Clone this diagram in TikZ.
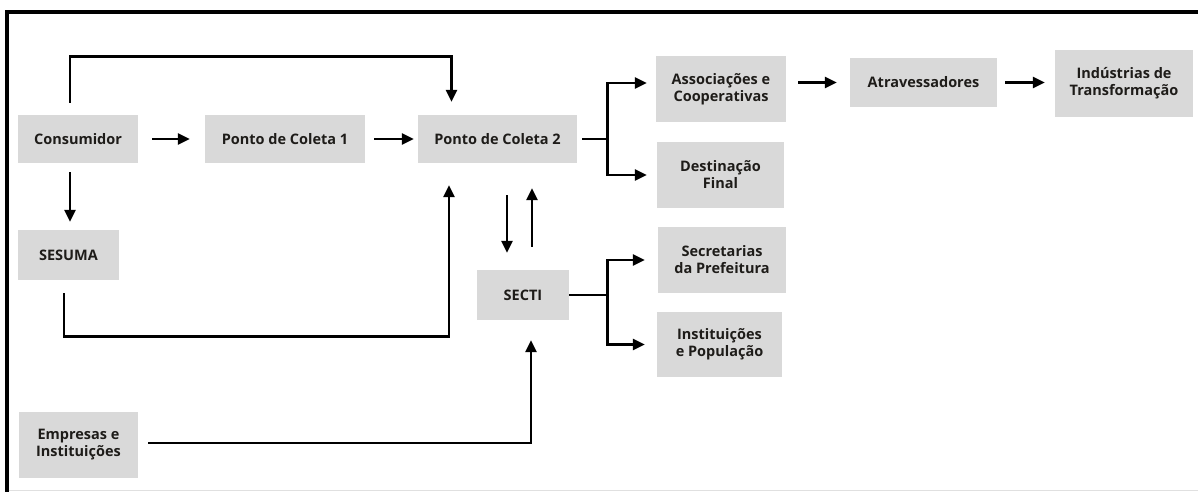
\documentclass[tikz,border=0pt]{standalone}
\usepackage{fontspec}
\setmainfont{Open Sans}
\usetikzlibrary{arrows.meta}
\definecolor{caixacinza}{RGB}{217,217,217}
\definecolor{textoescuro}{RGB}{30,28,25}
\tikzset{
	caixa/.style={fill=caixacinza, inner sep=0pt, align=center, text=textoescuro,
		font=\fontsize{14.5}{17}\selectfont\bfseries},
	seta/.style={line width=2.8pt, -{Triangle[length=12pt,width=11pt]}},
	linha/.style={line width=2.8pt},
}

\begin{document}
\begin{tikzpicture}[x=1pt,y=-1pt]
		\useasboundingbox (0,0) rectangle (1198,492);
		\draw[line width=4pt] (7,492) -- (7,12) -- (1198,12);
		\draw[black!12, line width=1pt] (9,490) -- (1198,490);
		\node[caixa, minimum width=120pt, minimum height=48pt] (cons) at (78,139) {Consumidor};
		\node[caixa, minimum width=160pt, minimum height=48pt] (pc1) at (285,139) {Ponto de Coleta 1};
		\node[caixa, minimum width=159pt, minimum height=48pt] (pc2) at (497.5,139) {Ponto de Coleta 2};
		\node[caixa, minimum width=101pt, minimum height=50pt] (sesuma) at (68.5,255) {SESUMA};
		\node[caixa, minimum width=130pt, minimum height=66pt] (assoc) at (721,89) {Associações e\\Cooperativas};
		\node[caixa, minimum width=127pt, minimum height=66pt] (dest) at (720.5,175) {Destinação\\Final};
		\node[caixa, minimum width=147pt, minimum height=49pt] (atrav) at (923.5,82.5) {Atravessadores};
		\node[caixa, minimum width=138pt, minimum height=67pt] (ind) at (1124,83.5) {Indústrias de\\Transformação};
		\node[caixa, minimum width=92pt, minimum height=50pt] (secti) at (523,295) {SECTI};
		\node[caixa, minimum width=128pt, minimum height=66pt] (secr) at (722,260) {Secretarias\\da Prefeitura};
		\node[caixa, minimum width=125pt, minimum height=65pt] (inst) at (719.5,344.5) {Instituições\\e População};
		\node[caixa, minimum width=119pt, minimum height=66pt] (emp) at (78.5,445) {Empresas e\\Instituições};
		\coordinate (cx) at ([xshift=-8pt]cons.north);
		\coordinate (px) at ([xshift=-46pt]pc2.north);
		\coordinate (cs) at ([xshift=-8pt]cons.south);
		\coordinate (ss) at ([xshift=-4.5pt]sesuma.south);
		\coordinate (ps) at ([xshift=-48.5pt]pc2.south);
		\coordinate (t1) at ([xshift=-16pt]secti.north);
		\coordinate (t2) at ([xshift=9pt]secti.north);
		\coordinate (es) at ([xshift=8pt]secti.south);
		\draw[seta, shorten <=12pt, shorten >=13pt] (cx) -- ++(0,-58) -| (px);
		\draw[seta, shorten <=14pt, shorten >=15pt] (cons.east) -- (pc1.west);
		\draw[seta, shorten <=9pt, shorten >=4pt] (pc1.east) -- (pc2.west);
		\draw[seta, shorten <=9pt, shorten >=8pt] (cs) -- (cs |- sesuma.north);
		\draw[seta, shorten <=13pt, shorten >=22pt] (ss) -- ++(0,56) -| (ps);
		\draw[seta, shorten <=32pt, shorten >=17pt] (t1 |- pc2.south) -- (t1);
		\draw[seta, shorten <=23pt, shorten >=25pt] (t2) -- (t2 |- pc2.south);
		\draw[seta, shorten <=10pt, shorten >=20pt] ([yshift=2pt]emp.east) -| (es);
		\draw[linha] ([xshift=5pt]pc2.east) -- ++(25,0) coordinate (r1);
		\draw[seta, shorten >=9pt] (r1) |- ([yshift=6pt]assoc.west);
		\draw[seta, shorten >=10pt] (r1) |- (dest.west);
		\draw[seta, shorten <=12pt, shorten >=13pt] (assoc.east |- atrav.west) -- (atrav.west);
		\draw[seta, shorten <=8pt, shorten >=10pt] (atrav.east) -- (atrav.east -| ind.west);
		\draw[linha] (secti.east) -- ++(38,0) coordinate (r2);
		\draw[seta, shorten >=13pt] (r2) |- (secr.west);
		\draw[seta, shorten >=12pt] (r2) |- (inst.west);
	\end{tikzpicture}
\end{document}
